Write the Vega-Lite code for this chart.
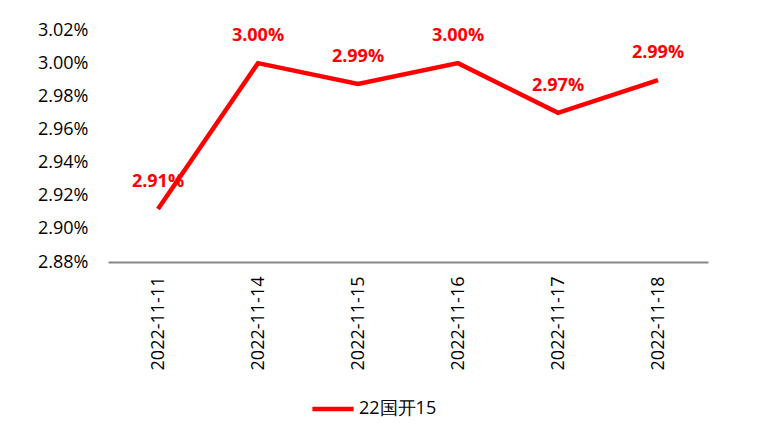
{
  "$schema": "https://vega.github.io/schema/vega-lite/v6.json",
  "autosize": "none",
  "padding": {"left": 108, "top": 30, "right": 71, "bottom": 163},
  "width": 600,
  "height": 232,
  "config": {
    "view": {"stroke": null},
    "font": "Open Sans",
    "axis": {"labelFont": "Open Sans", "labelColor": "#000000"}
  },
  "data": {
    "values": [
      {"date": "2022-11-11", "rate": 2.912, "label": "2.91%", "series": "22国开15"},
      {"date": "2022-11-14", "rate": 3.0, "label": "3.00%", "series": "22国开15"},
      {"date": "2022-11-15", "rate": 2.9874, "label": "2.99%", "series": "22国开15"},
      {"date": "2022-11-16", "rate": 3.0, "label": "3.00%", "series": "22国开15"},
      {"date": "2022-11-17", "rate": 2.97, "label": "2.97%", "series": "22国开15"},
      {"date": "2022-11-18", "rate": 2.9898, "label": "2.99%", "series": "22国开15"}
    ]
  },
  "encoding": {
    "x": {
      "field": "date", "type": "nominal", "sort": null,
      "scale": {"paddingInner": 0, "paddingOuter": 0},
      "axis": {"title": null, "labelAngle": -90, "labelFontSize": 18, "labelPadding": 14, "domainColor": "#888888", "domainWidth": 2, "ticks": false, "labelBaseline": "middle", "labelLimit": 200}
    },
    "y": {
      "field": "rate", "type": "quantitative",
      "scale": {"domain": [2.88, 3.02], "nice": false, "zero": false},
      "axis": {"title": null, "values": [2.88, 2.9, 2.92, 2.94, 2.96, 2.98, 3.0, 3.02], "labelExpr": "format(datum.value, '.2f') + '%'", "labelFontSize": 18, "labelPadding": 20, "domain": false, "ticks": false, "grid": false}
    }
  },
  "layer": [
    {
      "mark": {"type": "line", "strokeWidth": 4.5, "color": "#FF0000"},
      "encoding": {
        "color": {
          "field": "series", "type": "nominal",
          "scale": {"range": ["#FF0000"]},
          "legend": {"title": null, "orient": "none", "legendX": 202, "legendY": 356, "symbolType": "stroke", "symbolStrokeWidth": 4.5, "symbolSize": 1700, "labelFontSize": 18, "labelFont": "Open Sans", "labelColor": "#000000", "labelOffset": 3}
        }
      }
    },
    {
      "mark": {"type": "text", "color": "#FF0000", "fontWeight": "bold", "fontSize": 18, "dy": -27, "baseline": "middle"},
      "encoding": {"text": {"field": "label"}}
    }
  ]
}
